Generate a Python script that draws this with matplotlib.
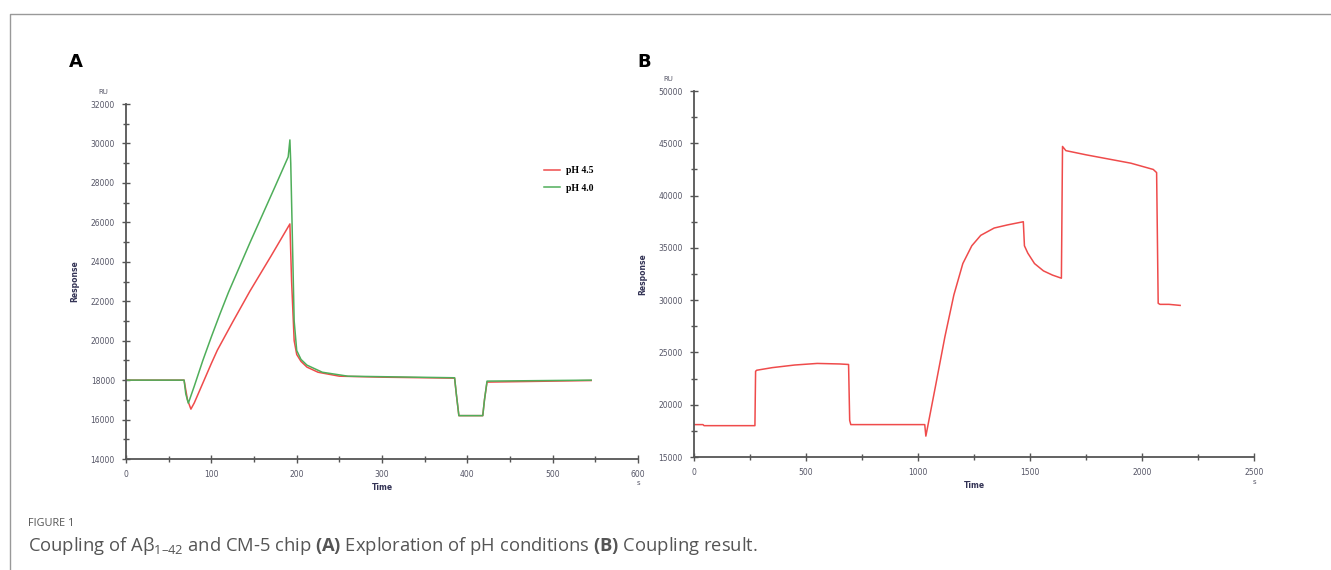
import matplotlib
matplotlib.use("Agg")
from matplotlib import pyplot as plt
from matplotlib.lines import Line2D
from matplotlib.ticker import MultipleLocator

# panel A: pH scouting sensorgrams
t_red = [0, 68, 72, 76, 80, 90, 100, 107, 125, 145, 170, 192, 194, 197, 200, 205, 212,
         225, 250, 300, 385, 387, 390, 418, 420, 423, 545]
ru_red = [18000, 18000, 17000, 16530, 16850, 17850, 18850, 19520, 20950, 22500, 24300,
          25920, 23000, 20000, 19300, 18950, 18660, 18400, 18200, 18150, 18100, 17300,
          16200, 16200, 17000, 17900, 17980]

t_green = [0, 68, 70, 73, 80, 90, 100, 110, 120, 130, 145, 160, 175, 190, 192, 193, 195,
           197, 200, 205, 212, 230, 260, 385, 387, 390, 418, 420, 423, 545]
ru_green = [18000, 18000, 17300, 16830, 17700, 19000, 20200, 21350, 22450, 23450, 24950,
            26400, 27850, 29320, 30180, 29000, 25000, 21000, 19500, 19050, 18760, 18400,
            18200, 18120, 17300, 16200, 16200, 17000, 17950, 18000]

# panel B: coupling run
t_b = [0, 40, 45, 272, 275, 280, 350, 450, 550, 650, 690, 695, 700, 1030, 1035, 1080,
       1120, 1160, 1200, 1240, 1280, 1340, 1400, 1470, 1475, 1490, 1520, 1560, 1600,
       1640, 1645, 1660, 1750, 1850, 1950, 2050, 2065, 2072, 2080, 2120, 2170]
ru_b = [18100, 18100, 18000, 18000, 23200, 23300, 23550, 23800, 23950, 23900, 23850,
        18500, 18100, 18100, 17000, 22000, 26500, 30500, 33500, 35200, 36200, 36900,
        37200, 37500, 35200, 34500, 33500, 32800, 32400, 32100, 44700, 44300, 43900,
        43500, 43100, 42500, 42200, 29700, 29600, 29600, 29500]

RED = "#ef4b4b"
GREEN = "#4fae5a"
AXC = "#555555"

fig = plt.figure(figsize=(13.31, 5.70), dpi=100)


def style(ax, xmaj, ymaj, xlim, ylim):
    for s in ["top", "right"]:
        ax.spines[s].set_visible(False)
    for s in ["left", "bottom"]:
        ax.spines[s].set_color(AXC)
        ax.spines[s].set_linewidth(1.3)
    ax.set_xlim(*xlim)
    ax.set_ylim(*ylim)
    ax.xaxis.set_major_locator(MultipleLocator(xmaj))
    ax.xaxis.set_minor_locator(MultipleLocator(xmaj / 2))
    ax.yaxis.set_major_locator(MultipleLocator(ymaj))
    ax.yaxis.set_minor_locator(MultipleLocator(ymaj / 2))
    ax.tick_params(which="major", direction="inout", length=6, width=1, color=AXC,
                   labelsize=5.5, labelcolor="#555566", pad=5)
    ax.tick_params(which="minor", direction="inout", length=4, width=1, color=AXC)
    ax.set_xlabel("Time", fontsize=5.5, fontweight="bold", color="#333355", labelpad=3)
    ax.set_ylabel("Response", fontsize=5.5, fontweight="bold", color="#333355", labelpad=8)
    ax.text(-0.045, 1.025, "RU", transform=ax.transAxes, fontsize=5, color="#555566",
            ha="center", va="bottom")
    ax.text(1.0, -0.06, "s", transform=ax.transAxes, fontsize=5, color="#555566",
            ha="center", va="top")


axA = fig.add_axes([0.0947, 0.1947, 0.3847, 0.6228])
axA.plot(t_red, ru_red, color=RED, lw=1.1, label="pH 4.5")
axA.plot(t_green, ru_green, color=GREEN, lw=1.1, label="pH 4.0")
style(axA, 100, 2000, (0, 600), (14000, 32000))
axA.legend(loc="upper left", bbox_to_anchor=(0.80, 0.85), frameon=False,
           handlelength=1.6, handletextpad=0.6, labelspacing=0.9,
           prop={"family": "Liberation Serif", "weight": "bold", "size": 7})

axB = fig.add_axes([0.5214, 0.1982, 0.4208, 0.6421])
axB.plot(t_b, ru_b, color=RED, lw=1.1)
style(axB, 500, 5000, (0, 2500), (15000, 50000))

fig.text(76 / 1331, 1 - 62 / 570, "A", fontsize=13, fontweight="bold", ha="center", va="center")
fig.text(644 / 1331, 1 - 62 / 570, "B", fontsize=13, fontweight="bold", ha="center", va="center")

plt.rcParams["mathtext.fontset"] = "custom"
plt.rcParams["mathtext.rm"] = "Open Sans"
plt.rcParams["mathtext.bf"] = "Open Sans:bold"
fig.text(28 / 1331, 1 - 523 / 570, "FIGURE 1", fontsize=7.8, family="Open Sans",
         color="#555555", ha="left", va="center")
fig.text(28 / 1331, 1 - 546 / 570,
         "Coupling of A\u03b2$_{\\mathrm{1\u201342}}$ and CM-5 chip $\\mathbf{(A)}$ "
         "Exploration of pH conditions $\\mathbf{(B)}$ Coupling result.",
         fontsize=13.2, family="Open Sans", color="#555555", ha="left", va="center")

# outer frame (top and left rules)
fig.add_artist(Line2D([10 / 1331, 10 / 1331, 1330 / 1331], [0, 1 - 14 / 570, 1 - 14 / 570],
                      transform=fig.transFigure, color="#999999", lw=1))

fig.savefig("out.png", dpi=100)
